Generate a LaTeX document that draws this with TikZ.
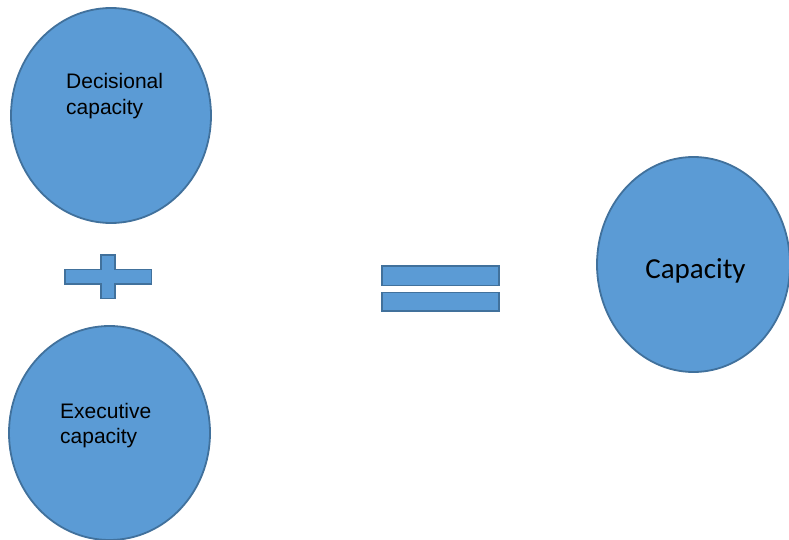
\documentclass[tikz,border=0pt]{standalone}
\usepackage{fontspec}
\setmainfont{Liberation Sans}
\newfontfamily\calib{Carlito}
\usetikzlibrary{shapes.geometric}
\definecolor{shapefill}{HTML}{5B9BD5}
\definecolor{shapeline}{HTML}{41719C}
\begin{document}
\begin{tikzpicture}[x=1pt,y=1pt,
  blob/.style={ellipse, draw=shapeline, fill=shapefill, line width=1.8pt, inner sep=0pt},
  lbl/.style={font=\fontsize{21}{25.5}\selectfont, align=left, inner sep=0pt, anchor=north west},
  sign/.style={draw=shapeline, fill=shapefill, line width=1.8pt}]
\useasboundingbox (0,0) rectangle (789,539);
\fill[white] (0,0) rectangle (789,539);
\node[blob, minimum width=200pt, minimum height=215pt] (dec) at (111,423.5) {};
\node[blob, minimum width=201pt, minimum height=214pt] (exe) at (109.5,106) {};
\node[blob, minimum width=193pt, minimum height=215pt] (cap) at (693.5,274.5) {};
\node[lbl] (dect) at (66,465.5) {Decisional\\capacity};
\node[lbl] (exet) at (60,136) {Executive\\capacity};
\node[font=\calib\fontsize{29}{34}\selectfont, inner sep=0pt, anchor=base] (capt) at (695.5,261) {Capacity};
% plus sign
\draw[sign] (65,269.5) -- (101,269.5) -- (101,284) -- (115,284) -- (115,269.5) -- (151.5,269.5)
  -- (151.5,255) -- (115,255) -- (115,240.5) -- (101,240.5) -- (101,255) -- (65,255) -- cycle;
% equals sign
\draw[sign] (382,253.5) rectangle (499,273);
\draw[sign] (382,228) rectangle (499,246.5);
\end{tikzpicture}
\end{document}
